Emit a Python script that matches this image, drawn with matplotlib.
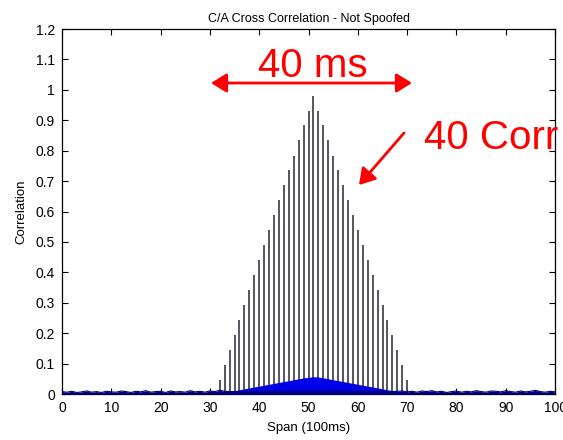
import numpy as np
import matplotlib
matplotlib.use('Agg')
import matplotlib.pyplot as plt

plt.rcParams['font.family'] = ['Liberation Sans', 'DejaVu Sans']

# Eixo x (Span, 100ms) - posicoes dos picos de correlacao
spike_span = list(range(32, 71))
spike_corr = [0.046, 0.095, 0.144, 0.194, 0.243, 0.292, 0.342, 0.391, 0.440, 0.489,
              0.538, 0.588, 0.637, 0.686, 0.735, 0.784, 0.834, 0.883, 0.932, 0.980,
              0.932, 0.883, 0.834, 0.784, 0.735, 0.686, 0.637, 0.588, 0.538, 0.489,
              0.440, 0.391, 0.342, 0.292, 0.243, 0.194, 0.144, 0.095, 0.046]

# Correlacao "densa" (area azul) - piso de ruido e triangulo central
span = list(range(0, 101))
noise_floor = [0.008, 0.006, 0.009, 0.005, 0.007, 0.010, 0.006, 0.008, 0.005, 0.009,
               0.007, 0.006, 0.010, 0.008, 0.005, 0.009, 0.007, 0.011, 0.006, 0.008,
               0.009, 0.005, 0.010, 0.007, 0.008, 0.006, 0.011, 0.007, 0.009, 0.006,
               0.010, 0.008, 0.012, 0.009, 0.008, 0.008, 0.008, 0.008, 0.008, 0.008,
               0.008, 0.008, 0.008, 0.008, 0.008, 0.008, 0.008, 0.008, 0.008, 0.008,
               0.008, 0.008, 0.008, 0.008, 0.008, 0.008, 0.008, 0.008, 0.008, 0.008,
               0.008, 0.008, 0.008, 0.008, 0.008, 0.008, 0.008, 0.008, 0.009, 0.010,
               0.007, 0.009, 0.006, 0.010, 0.008, 0.011, 0.007, 0.009, 0.005, 0.008,
               0.010, 0.006, 0.009, 0.007, 0.011, 0.008, 0.006, 0.010, 0.009, 0.007,
               0.011, 0.008, 0.006, 0.010, 0.007, 0.009, 0.012, 0.008, 0.006, 0.009,
               0.007]
tri_span = list(range(33, 71))
tri_corr = [0.004, 0.008, 0.011, 0.014, 0.017, 0.020, 0.023, 0.026, 0.029, 0.032,
            0.035, 0.038, 0.041, 0.044, 0.047, 0.050, 0.053, 0.055, 0.057, 0.056,
            0.053, 0.050, 0.047, 0.044, 0.041, 0.038, 0.035, 0.032, 0.029, 0.026,
            0.023, 0.020, 0.017, 0.014, 0.011, 0.008, 0.005, 0.003]

fig = plt.figure(figsize=(5.63, 4.4), dpi=100)
ax = fig.add_axes([0.110, 0.1045, 0.876, 0.8295])

# Picos (stems)
ax.vlines(spike_span, 0, spike_corr, color='#474757', linewidth=1.3, zorder=2)

# Area azul
ax.fill_between(tri_span, 0, tri_corr, color='#0000e6', linewidth=0, zorder=3)
ax.fill_between(span, 0, noise_floor, color='#00007a', linewidth=0, zorder=3)
ax.plot(span, noise_floor, color='#00007a', linewidth=0.8, zorder=4)

ax.set_xlim(0, 100)
ax.set_ylim(0, 1.2)
ax.set_xticks(range(0, 101, 10))
ax.set_yticks([0, 0.1, 0.2, 0.3, 0.4, 0.5, 0.6, 0.7, 0.8, 0.9, 1, 1.1, 1.2])
ax.set_yticklabels(['0', '0.1', '0.2', '0.3', '0.4', '0.5', '0.6', '0.7', '0.8',
                    '0.9', '1', '1.1', '1.2'])
ax.tick_params(direction='in', length=4, width=0.8, labelsize=10, pad=5,
               top=True, right=True, colors='black')
for s in ax.spines.values():
    s.set_linewidth(0.9)

ax.set_title('C/A Cross Correlation - Not Spoofed', fontsize=9, pad=5)
ax.set_xlabel('Span (100ms)', fontsize=9.5, labelpad=5)
ax.set_ylabel('Correlation', fontsize=9.5, labelpad=6)

# Anotacoes em vermelho
fig.text(313, 363, '40 ms', transform=None, fontsize=29, color='red',
         ha='center', va='baseline')
ax.annotate('', xy=(211, 357), xycoords='figure pixels',
            xytext=(412, 357), textcoords='figure pixels',
            arrowprops=dict(arrowstyle='<|-|>,head_length=0.47,head_width=0.29',
                            mutation_scale=20, color='red', lw=2,
                            shrinkA=0, shrinkB=0))
fig.text(424, 291, '40 Corr', transform=None, fontsize=29, color='red',
         ha='left', va='baseline')
ax.annotate('', xy=(359, 255), xycoords='figure pixels',
            xytext=(404, 307), textcoords='figure pixels',
            arrowprops=dict(arrowstyle='-|>,head_length=0.47,head_width=0.29',
                            mutation_scale=20, color='red', lw=2,
                            shrinkA=0, shrinkB=0))

fig.savefig('out.png', dpi=100)
